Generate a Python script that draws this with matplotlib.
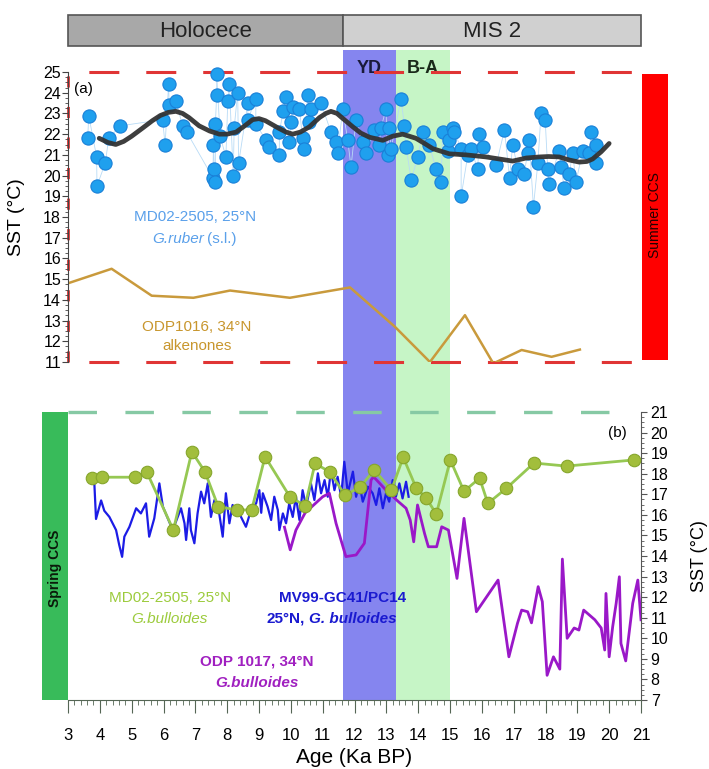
import matplotlib
matplotlib.use("Agg")
import matplotlib.pyplot as plt
from matplotlib.patches import Rectangle
from matplotlib.ticker import MultipleLocator

plt.rcParams["font.family"] = ["Liberation Sans", "DejaVu Sans"]
plt.rcParams["lines.scale_dashes"] = False

# ---------------------------------------------------------------------------
# Data (Ka BP, SST in degC)
# ---------------------------------------------------------------------------

# MD02-2505, 25N, G. ruber (s.l.)
ruber_age = [3.62, 3.65, 3.90, 3.91, 4.17, 4.28, 4.64, 5.97, 6.05, 6.16, 6.18, 6.39,
             6.60, 6.73, 7.55, 7.57, 7.60, 7.63, 7.63, 7.67, 7.67, 7.78, 7.96, 8.02,
             8.07, 8.19, 8.22, 8.33, 8.36, 8.65, 8.65, 8.90, 8.90, 9.22, 9.32, 9.64,
             9.64, 9.76, 9.85, 9.95, 10.00, 10.06, 10.27, 10.37, 10.42, 10.53, 10.58,
             10.63, 10.95, 11.26, 11.42, 11.47, 11.63, 11.79, 11.89, 12.05, 12.26,
             12.36, 12.62, 12.78, 12.83, 12.99, 13.04, 13.09, 13.15, 13.46, 13.57,
             13.62, 13.78, 13.99, 14.14, 14.35, 14.56, 14.72, 14.77, 14.93, 14.98,
             15.09, 15.14, 15.35, 15.35, 15.56, 15.66, 15.87, 15.92, 16.03, 16.45,
             16.71, 16.87, 16.97, 17.13, 17.33, 17.44, 17.49, 17.62, 17.76, 17.86,
             17.99, 18.07, 18.10, 18.43, 18.49, 18.59, 18.75, 18.85, 18.96, 19.17,
             19.38, 19.43, 19.59, 19.59]
ruber_sst = [21.8, 22.9, 20.9, 19.5, 20.6, 21.8, 22.4, 22.7, 21.5, 24.4, 23.4, 23.6,
             22.4, 22.1, 19.9, 21.5, 20.3, 19.7, 22.5, 23.9, 24.9, 21.9, 20.9, 23.6,
             24.4, 20.0, 22.3, 24.0, 20.6, 23.5, 22.7, 23.7, 22.5, 21.7, 21.4, 21.0,
             22.1, 23.1, 23.8, 21.6, 22.6, 23.3, 23.2, 21.8, 21.3, 23.9, 22.6,
             23.2, 23.5, 22.1, 21.6, 21.1, 23.2, 21.7, 20.4, 22.7, 21.6,
             21.1, 22.2, 21.5, 22.3, 23.2, 21.0, 22.3, 21.3, 23.7, 22.4,
             21.4, 19.8, 20.9, 22.1, 21.5, 20.3, 19.7, 22.1, 21.2, 21.7,
             22.3, 22.1, 21.3, 19.0, 21.0, 21.3, 20.3, 22.0, 21.4, 20.5,
             22.2, 19.9, 21.5, 20.3, 20.1, 21.1, 21.7, 18.5, 20.6, 23.0,
             22.7, 20.3, 19.6, 21.2, 20.4, 19.4, 20.1, 21.1, 19.7, 21.2,
             21.1, 22.1, 21.5, 20.6]

# smoothed G. ruber record
smooth_age = [3.98, 4.25, 4.5, 4.75, 5.0, 5.35, 5.65, 5.9, 6.15, 6.39, 6.6, 6.8, 7.12,
              7.45, 7.75, 8.0, 8.28, 8.55, 8.8, 9.0, 9.2, 9.6, 9.85, 10.06, 10.3, 10.58,
              10.9, 11.1, 11.26, 11.45, 11.6, 11.95, 12.2, 12.47, 12.89, 13.2, 13.51,
              13.93, 14.2, 14.46, 14.98, 15.5, 16.13, 16.55, 16.97, 17.4, 17.81, 18.1,
              18.43, 18.75, 19.06, 19.3, 19.48, 19.75, 20.0]
smooth_sst = [21.8, 21.6, 21.5, 21.65, 21.9, 22.3, 22.65, 22.9, 23.05, 23.1, 23.0, 22.8,
              22.4, 22.15, 22.0, 22.0, 22.1, 22.4, 22.7, 22.75, 22.65, 22.3, 22.1, 22.0,
              22.1, 22.35, 22.8, 23.0, 23.1, 23.0, 22.8, 22.35, 22.05, 21.85, 21.7, 21.9,
              22.0, 21.8, 21.55, 21.3, 21.05, 21.0, 20.9, 20.8, 20.7, 20.85, 20.9, 20.92,
              20.9, 20.75, 20.65, 20.68, 20.8, 21.15, 21.55]

# ODP1016, 34N, alkenones
odp1016_age = [3.0, 4.37, 5.63, 6.94, 8.09, 9.97, 11.86, 13.27, 14.37, 15.47, 16.36,
               17.25, 18.19, 19.08]
odp1016_sst = [14.8, 15.5, 14.2, 14.1, 14.45, 14.1, 14.6, 12.7, 11.0, 13.26, 10.93,
               11.58, 11.25, 11.6]

# MD02-2505, 25N, G. bulloides
bull_age = [3.74, 4.06, 5.10, 5.47, 6.31, 6.89, 7.30, 7.72, 8.30, 8.77, 9.19, 9.97,
            10.45, 10.76, 11.23, 11.70, 12.18, 12.62, 13.16, 13.53, 13.94, 14.26, 14.57,
            15.01, 15.44, 15.93, 16.19, 16.77, 17.64, 18.66, 20.78]
bull_sst = [17.78, 17.83, 17.83, 18.10, 15.26, 19.07, 18.10, 16.40, 16.24, 16.24, 18.83,
            16.88, 16.44, 18.50, 18.08, 16.96, 17.35, 18.19, 17.20, 18.80, 17.30, 16.80,
            16.04, 18.67, 17.15, 17.78, 16.56, 17.29, 18.52, 18.37, 18.67]

# MV99-GC41/PC14, 25N, G. bulloides
mv99_age = [3.83, 3.88, 4.04, 4.14, 4.30, 4.51, 4.61, 4.70, 4.77, 4.93, 5.14, 5.29, 5.45,
            5.55, 5.71, 5.87, 5.98, 6.29, 6.55, 6.66, 6.71, 6.81, 6.86, 6.97, 7.07, 7.18,
            7.28, 7.39, 7.49, 7.60, 7.75, 7.86, 7.96, 8.07, 8.17, 8.38, 8.59, 8.75, 8.91,
            9.01, 9.07, 9.12, 9.27, 9.38, 9.48, 9.59, 9.64, 9.75, 9.85, 9.95, 10.06,
            10.16, 10.27, 10.37, 10.48, 10.63, 10.74, 10.85, 10.95, 11.06, 11.16, 11.26,
            11.37, 11.47, 11.58, 11.68, 11.79, 11.95, 12.05, 12.15, 12.26, 12.42, 12.57,
            12.68, 12.78, 12.89, 12.99, 13.09, 13.20, 13.30, 13.41, 13.51, 13.62, 13.70]
mv99_sst = [17.45, 15.8, 16.7, 16.2, 15.9, 15.26, 14.53, 13.96, 14.94, 15.42, 16.32, 16.07,
            16.56, 14.94, 15.83, 17.53, 16.4, 15.26, 16.32, 15.59, 14.78, 16.32, 15.26,
            14.62, 16.07, 17.13, 16.56, 17.53, 15.90, 16.72, 16.07, 14.94, 17.05, 15.59,
            16.48, 16.07, 15.42, 16.24, 16.56, 17.20, 16.1, 17.05, 16.4, 15.75, 16.88,
            16.24, 15.26, 16.07, 15.59, 16.56, 15.9, 16.88, 15.75, 17.2, 16.4, 17.53,
            16.72, 18.02, 17.05, 17.69, 16.88, 18.18, 17.2, 17.85, 16.88, 18.58, 17.05,
            18.1, 16.88, 17.53, 16.64, 17.37, 17.05, 16.48, 17.29, 16.32, 17.05, 16.64,
            17.69, 16.88, 17.53, 16.8, 17.61, 16.88]

# ODP 1017, 34N, G. bulloides
odp1017_age = [9.80, 9.98, 10.16, 10.45, 11.0, 11.21, 11.42, 11.73, 12.05, 12.31, 12.52,
               12.60, 12.99, 13.38, 13.62, 13.75, 13.86, 13.98, 14.2, 14.32, 14.58, 14.74,
               14.95, 15.22, 15.44, 15.83, 16.51, 16.85, 17.12, 17.25, 17.44, 17.56, 17.77,
               17.9, 18.05, 18.25, 18.33, 18.45, 18.53, 18.68, 18.9, 19.05, 19.2, 19.55,
               19.75, 19.86, 19.9, 20.0, 20.11, 20.22, 20.32, 20.37, 20.52, 20.74, 20.9,
               21.0]
odp1017_sst = [15.4, 14.3, 15.26, 16.1, 16.88, 17.05, 15.59, 13.97, 14.05, 14.62, 17.69,
               17.85, 17.2, 16.64, 16.32, 15.75, 14.69, 16.48, 15.1, 14.45, 14.45, 15.42,
               15.26, 12.91, 15.83, 11.29, 12.83, 9.1, 10.73, 11.37, 11.29, 10.75, 12.51,
               11.78, 8.2, 9.1, 8.86, 8.5, 13.85, 10.0, 10.5, 10.4, 11.37, 10.9,
               10.5, 9.43, 12.18, 9.1, 10.56, 11.7, 12.99, 9.75, 8.9, 11.7, 12.83,
               10.9]

# climate intervals (Ka BP)
holocene_span = (3.0, 11.65)
mis2_span = (11.65, 21.0)
yd_span = (11.65, 13.3)
ba_span = (13.3, 15.0)

XMIN, XMAX = 3, 21

# ---------------------------------------------------------------------------
# Figure layout
# ---------------------------------------------------------------------------
W, H = 709, 769
fig = plt.figure(figsize=(W / 100, H / 100), dpi=100)


def frame(x0, y0, x1, y1):
    """Axes rectangle from pixel edges (top-left origin)."""
    return [x0 / W, 1 - y1 / H, (x1 - x0) / W, (y1 - y0) / H]


left_px, right_px = 68, 641

# shaded YD / B-A bands behind both panels
ax_bg = fig.add_axes(frame(left_px, 50, right_px, 700), zorder=0)
ax_bg.set_xlim(XMIN, XMAX)
ax_bg.set_ylim(0, 1)
ax_bg.axis("off")
ax_bg.axvspan(*yd_span, color="#8585ef", lw=0)
ax_bg.axvspan(*ba_span, color="#c6f5c6", lw=0)
ax_bg.text(sum(yd_span) / 2, 0.985, "YD", ha="center", va="top", fontsize=13,
           fontweight="bold", color="#1a1a3a")
ax_bg.text(sum(ba_span) / 2, 0.985, "B-A", ha="center", va="top", fontsize=13,
           fontweight="bold", color="#1a2a1a")

# stage bar on top
ax_top = fig.add_axes(frame(left_px, 15, right_px, 46), zorder=1)
ax_top.set_xlim(XMIN, XMAX)
ax_top.set_ylim(0, 1)
ax_top.axis("off")
for (x0, x1), name, fc in [(holocene_span, "Holocece", "#a8a8a8"),
                           (mis2_span, "MIS 2", "#d0d0d0")]:
    ax_top.add_patch(Rectangle((x0, 0), x1 - x0, 1, facecolor=fc,
                               edgecolor="#555555", lw=1.2, clip_on=False))
    ax_top.text((x0 + x1) / 2, 0.48, name, ha="center", va="center",
                fontsize=16, color="#222222")

# ---------------------------------------------------------------------------
# Panel (a)
# ---------------------------------------------------------------------------
ax_a = fig.add_axes(frame(left_px, 72, right_px, 362), zorder=2)
ax_a.patch.set_alpha(0)
ax_a.set_xlim(XMIN, XMAX)
ax_a.set_ylim(11, 25)
for s in ("top", "right", "bottom"):
    ax_a.spines[s].set_visible(False)
ax_a.spines["left"].set_color("#444444")
ax_a.set_xticks([])
ax_a.yaxis.set_major_locator(MultipleLocator(1))
ax_a.yaxis.set_minor_locator(MultipleLocator(0.25))
ax_a.tick_params(axis="y", which="major", length=4, pad=1, labelsize=11.5,
                 color="#444444")
ax_a.tick_params(axis="y", which="minor", length=2, color="#444444")
ax_a.set_ylabel("SST (°C)", fontsize=14)
ax_a.yaxis.set_label_coords(-0.075, 0.5)

red_dash = dict(color="#e03535", lw=2.2, linestyle=(26, (21.6, 19.4)),
                clip_on=False)
ax_a.plot([XMIN, 20.9], [25, 25], **red_dash, zorder=1)
ax_a.plot([XMIN, 21.0], [11, 11], **red_dash, zorder=1)
ax_a.plot([XMIN, XMIN], [11, 25], color="#e03535", lw=2.0,
          linestyle=(0, (8, 14)), zorder=1, clip_on=False)

ax_a.plot(ruber_age, ruber_sst, color="#b8dbf6", lw=0.6, zorder=2)
ax_a.plot(ruber_age, ruber_sst, "o", ms=9.5, mfc="#1fa0ee", mec="#1a80d8", mew=0.8,
          lw=0, zorder=3, clip_on=False)
ax_a.plot(smooth_age, smooth_sst, color="#333333", lw=3.4, alpha=0.95, zorder=4,
          solid_capstyle="round", solid_joinstyle="round")
ax_a.plot(odp1016_age, odp1016_sst, color="#c99a3c", lw=1.8, zorder=2)

ax_a.text(3.2, 24.2, "(a)", fontsize=11, ha="left", va="center")
ax_a.text(7.0, 18.0, "MD02-2505, 25°N", color="#5aa0ea", fontsize=11,
          ha="center", va="center")
ax_a.text(7.28, 16.95, "G.ruber", color="#5aa0ea", fontsize=11, style="italic",
          ha="right", va="center")
ax_a.text(7.38, 16.95, "(s.l.)", color="#5aa0ea", fontsize=11,
          ha="left", va="center")
ax_a.text(7.05, 12.7, "ODP1016, 34°N", color="#c8962d", fontsize=11,
          ha="center", va="center")
ax_a.text(7.05, 11.75, "alkenones", color="#c8962d", fontsize=11,
          ha="center", va="center")

# summer CCS bar
ax_a.add_patch(Rectangle((21.03, 11.1), 0.82, 13.8, facecolor="#ff0000",
                         edgecolor="none", clip_on=False, zorder=3))
ax_a.text(21.44, 18.1, "Summer CCS", rotation=90, ha="center", va="center",
          fontsize=10, color="#220000", clip_on=False, zorder=4)

# ---------------------------------------------------------------------------
# Panel (b)
# ---------------------------------------------------------------------------
ax_b = fig.add_axes(frame(left_px, 412, right_px, 700), zorder=2)
ax_b.patch.set_alpha(0)
ax_b.set_xlim(XMIN, XMAX)
ax_b.set_ylim(7, 21)
for s in ("top", "left"):
    ax_b.spines[s].set_visible(False)
ax_b.spines["right"].set_color("#555555")
ax_b.spines["bottom"].set_color("#556655")
ax_b.yaxis.tick_right()
ax_b.yaxis.set_major_locator(MultipleLocator(1))
ax_b.yaxis.set_minor_locator(MultipleLocator(0.25))
ax_b.xaxis.set_major_locator(MultipleLocator(1))
ax_b.xaxis.set_minor_locator(MultipleLocator(0.2))
ax_b.tick_params(axis="y", which="major", length=4, pad=3, labelsize=11.5,
                 color="#555555")
ax_b.tick_params(axis="y", which="minor", length=2, color="#555555")
ax_b.tick_params(axis="x", which="major", length=9, pad=11, labelsize=12,
                 color="#556655")
ax_b.tick_params(axis="x", which="minor", length=3.5, color="#556655")
fig.text(699 / W, 1 - 556 / H, "SST (°C)", fontsize=13, rotation=90,
         ha="center", va="center")
ax_b.set_xlabel("Age (Ka BP)", fontsize=15)
ax_b.xaxis.set_label_coords(0.5, -0.165)

ax_b.plot([XMIN, 20.35], [21, 21], color="#86c9a4", lw=2.4,
          linestyle=(0, (20.5, 20.5)), zorder=1, clip_on=False)

ax_b.plot(mv99_age, mv99_sst, color="#1c1ce6", lw=1.6, zorder=2)
ax_b.plot(odp1017_age, odp1017_sst, color="#9a18c8", lw=2.0, zorder=3)
ax_b.plot(bull_age, bull_sst, color="#96c853", lw=2.0, marker="o", ms=9,
          mfc="#a2be3c", mec="#86a62c", mew=0.8, zorder=4)

ax_b.text(20.25, 20.0, "(b)", fontsize=11, ha="center", va="center")
ax_b.text(6.2, 11.95, "MD02-2505, 25°N", color="#9ccb3c", fontsize=11,
          ha="center", va="center")
ax_b.text(6.2, 10.95, "G.bulloides", color="#9ccb3c", fontsize=11, style="italic",
          ha="center", va="center")
ax_b.text(11.64, 11.95, "MV99-GC41/PC14", color="#1a1ad0", fontsize=11,
          fontweight="bold", ha="center", va="center")
ax_b.text(10.45, 10.95, "25°N,", color="#1a1ad0", fontsize=11,
          fontweight="bold", ha="right", va="center")
ax_b.text(10.58, 10.95, "G. bulloides", color="#1a1ad0", fontsize=11,
          fontweight="bold", style="italic", ha="left", va="center")
ax_b.text(8.93, 8.85, "ODP 1017, 34°N", color="#a020c0", fontsize=11,
          fontweight="bold", ha="center", va="center")
ax_b.text(8.93, 7.85, "G.bulloides", color="#a020c0", fontsize=11, style="italic",
          fontweight="bold", ha="center", va="center")

# spring CCS bar
ax_b.add_patch(Rectangle((2.18, 7.0), 0.82, 14.0, facecolor="#38bb5a",
                         edgecolor="none", clip_on=False, zorder=3))
ax_b.text(2.59, 13.4, "Spring CCS", rotation=90, ha="center", va="center",
          fontsize=10, fontweight="bold", color="#0a1a0a", clip_on=False, zorder=4)

fig.savefig("out.png", dpi=100)
